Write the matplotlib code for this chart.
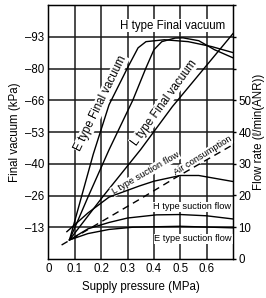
import matplotlib
matplotlib.use("Agg")
import matplotlib.pyplot as plt

plt.rcParams['font.family'] = ['Liberation Sans', 'DejaVu Sans']

# vacuum curves (kPa, magnitude) vs supply pressure (MPa)
e_vac_x = [0.08, 0.17, 0.23, 0.30, 0.34, 0.37, 0.44, 0.53, 0.62, 0.70]
e_vac_y = [8.0, 44.0, 64.8, 80.3, 88.7, 91.3, 92.1, 91.3, 89.2, 86.7]
h_vac_x = [0.08, 0.15, 0.23, 0.32, 0.37, 0.40, 0.43, 0.48, 0.51, 0.57, 0.63, 0.70]
h_vac_y = [8.0, 26.0, 45.9, 66.7, 80.3, 87.9, 91.3, 92.8, 92.9, 91.7, 87.9, 84.5]
l_vac_x = [0.08, 0.21, 0.35, 0.47, 0.70]
l_vac_y = [8.0, 26.7, 46.0, 64.0, 94.7]

# flow curves (l/min(ANR))
l_suc_x = [0.07, 0.15, 0.23, 0.345, 0.40, 0.50, 0.57, 0.70]
l_suc_y = [8.6, 14.5, 19.5, 23.0, 24.5, 26.3, 26.3, 24.4]
h_suc_x = [0.08, 0.15, 0.23, 0.30, 0.41, 0.50, 0.60, 0.70]
h_suc_y = [6.0, 9.5, 11.5, 12.9, 13.9, 14.0, 13.6, 12.6]
e_suc_x = [0.08, 0.15, 0.23, 0.32, 0.50, 0.70]
e_suc_y = [6.0, 8.0, 9.3, 10.0, 10.3, 9.8]
air_x = [0.05, 0.35, 0.48, 0.70]
air_y = [4.4, 19.0, 25.5, 36.0]

x_ticks = [0, 0.1, 0.2, 0.3, 0.4, 0.5, 0.6]
x_labels = ['0', '0.1', '0.2', '0.3', '0.4', '0.5', '0.6']
vac_ticks = [13.33 * k for k in range(1, 8)]
vac_labels = ['–13', '–26', '–40', '–53', '–66', '–80', '–93']
flow_ticks = [0, 10, 20, 30, 40, 50, 60, 70, 80]
flow_labels = ['0', '10', '20', '30', '40', '50', '', '', '']

fig = plt.figure(figsize=(2.66, 2.98), dpi=100)
ax = fig.add_axes([0.182, 0.131, 0.694, 0.852])
ax.set_xlim(0, 0.7)
ax.set_ylim(0, 106.67)
ax.set_xticks(x_ticks)
ax.set_xticklabels(x_labels, fontsize=8.3)
ax.set_yticks(vac_ticks)
ax.set_yticklabels(vac_labels, fontsize=8.3)
ax.tick_params(length=0, pad=3)
ax.set_axisbelow(True)
ax.grid(True, color='#1a1a1a', linewidth=1.1)
for s in ax.spines.values():
    s.set_linewidth(1.0)

lw = 1.0
ax.plot(e_vac_x, e_vac_y, color='black', lw=lw, zorder=2)
ax.plot(h_vac_x, h_vac_y, color='black', lw=lw, zorder=2)
ax.plot(l_vac_x, l_vac_y, color='black', lw=lw, zorder=2)

box = dict(facecolor='white', edgecolor='none', pad=0.5)
ax.text(0.47, 98.0, 'H type Final vacuum', fontsize=8.3, ha='center', va='center',
        bbox=box, zorder=1.5)
ax.text(0.198, 65.4, 'E type Final vacuum', fontsize=8.3, ha='center', va='center',
        rotation=64, rotation_mode='anchor', bbox=box, zorder=1.5)
ax.text(0.438, 65.8, 'L type Final vacuum', fontsize=8.3, ha='center', va='center',
        rotation=54, rotation_mode='anchor', bbox=box, zorder=1.5)

ax.set_xlabel('Supply pressure (MPa)', fontsize=8.3, labelpad=4)
ax.set_ylabel('Final vacuum (kPa)', fontsize=8.3, labelpad=3)

ax2 = ax.twinx()
ax2.set_ylim(0, 80)
ax2.set_yticks(flow_ticks)
ax2.set_yticklabels(flow_labels, fontsize=8.3)
ax2.tick_params(axis='y', length=2.5, width=1.0, pad=1.5)
ax2.set_ylabel('Flow rate (ℓ/min(ANR))', fontsize=8.3, labelpad=1)

ax2.plot(l_suc_x, l_suc_y, color='black', lw=lw, zorder=2)
ax2.plot(h_suc_x, h_suc_y, color='black', lw=lw, zorder=2)
ax2.plot(e_suc_x, e_suc_y, color='black', lw=lw, zorder=2)
ax2.plot(air_x, air_y, color='black', lw=lw, ls=(0, (5, 3.5)), zorder=2)

small = ['Liberation Sans Narrow', 'Liberation Sans']
ax2.text(0.368, 27.0, 'L type suction flow', fontsize=6.7, family=small,
         ha='center', va='center', rotation=30, rotation_mode='anchor', bbox=box, zorder=1.5)
ax2.text(0.587, 32.5, 'Air consumption', fontsize=6.7, family=small,
         ha='center', va='center', rotation=32, rotation_mode='anchor', bbox=box, zorder=1.5)
ax2.text(0.545, 16.4, 'H type suction flow', fontsize=6.7, family=small,
         ha='center', va='center', bbox=box, zorder=1.5)
ax2.text(0.549, 6.3, 'E type suction flow', fontsize=6.7, family=small,
         ha='center', va='center', bbox=box, zorder=1.5)

fig.savefig('out.png', dpi=100)
